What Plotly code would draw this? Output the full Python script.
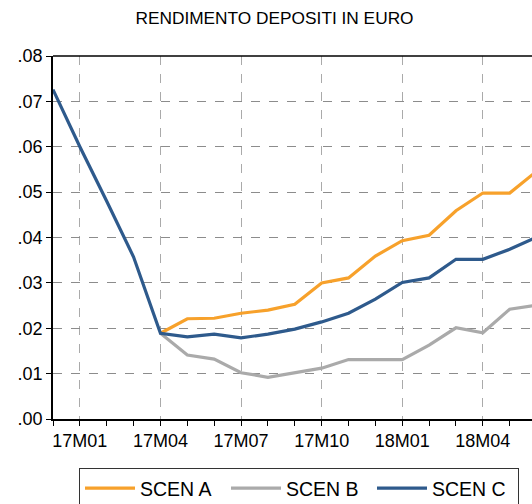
import plotly.graph_objects as go

months = ["16M12", "17M01", "17M02", "17M03", "17M04", "17M05", "17M06", "17M07",
          "17M08", "17M09", "17M10", "17M11", "17M12", "18M01", "18M02", "18M03",
          "18M04", "18M05", "18M06"]

scen_a = [None, None, None, None, 0.0189, 0.0221, 0.0222, 0.0233, 0.0240, 0.0253,
          0.0300, 0.0311, 0.0359, 0.0393, 0.0405, 0.0459, 0.0498, 0.0498, 0.0546]
scen_b = [None, None, None, None, 0.0189, 0.0141, 0.0132, 0.0102, 0.0092, 0.0102,
          0.0112, 0.0131, 0.0131, 0.0131, 0.0163, 0.0201, 0.0190, 0.0242, 0.0251]
scen_c = [0.0726, 0.0600, 0.0480, 0.0357, 0.0189, 0.0181, 0.0187, 0.0179, 0.0187, 0.0198,
          0.0214, 0.0233, 0.0264, 0.0301, 0.0311, 0.0352, 0.0352, 0.0374, 0.0401]

y_ticks = [0.00, 0.01, 0.02, 0.03, 0.04, 0.05, 0.06, 0.07, 0.08]
y_ticktext = [".00", ".01", ".02", ".03", ".04", ".05", ".06", ".07", ".08"]
x_major = ["17M01", "17M04", "17M07", "17M10", "18M01", "18M04"]

idx = list(range(len(months)))
x_major_pos = [months.index(m) for m in x_major]

FONT = "Liberation Sans, Arial, sans-serif"

W, H = 532, 504
L, T, R, B = 53, 56, 0, H - 419
PW, PH = W - L - R, H - T - B

fig = go.Figure()
fig.add_trace(go.Scatter(x=idx, y=scen_a, mode="lines", name="SCEN A",
                         line=dict(color="#F7A12B", width=3.2)))
fig.add_trace(go.Scatter(x=idx, y=scen_b, mode="lines", name="SCEN B",
                         line=dict(color="#AAAAAA", width=3.2)))
fig.add_trace(go.Scatter(x=idx, y=scen_c, mode="lines", name="SCEN C",
                         line=dict(color="#2E5A8C", width=3.2)))

fig.update_layout(
    width=W, height=H,
    margin=dict(l=L, r=R, t=T, b=B, autoexpand=False),
    paper_bgcolor="white", plot_bgcolor="white",
    font=dict(family=FONT, color="black", size=18),
    title=dict(text="RENDIMENTO DEPOSITI IN EURO", x=274.5 / W, xref="container",
               xanchor="center", y=1 - 18 / H, yref="container", yanchor="middle",
               font=dict(size=17.3, family=FONT, color="black")),
    showlegend=True,
    legend=dict(orientation="h", x=(79 - L) / PW, xanchor="left",
                y=-(468 - 419) / PH, yanchor="top",
                bordercolor="#333333", borderwidth=1,
                font=dict(size=19.5, family=FONT),
                entrywidth=81, entrywidthmode="pixels", itemwidth=50,
                traceorder="normal"),
    xaxis=dict(range=[0, 17.83], tickmode="array", tickvals=x_major_pos, ticktext=x_major,
               showgrid=True, gridcolor="#AAAAAA", griddash="dash", gridwidth=1,
               showline=True, linecolor="black", linewidth=1.5,
               ticks="outside", ticklen=5, tickcolor="black",
               minor=dict(tickmode="linear", tick0=0, dtick=1, ticks="outside",
                          ticklen=5, tickcolor="black", showgrid=False),
               tickfont=dict(size=18), zeroline=False, fixedrange=True, automargin=False),
    yaxis=dict(range=[0, 0.08], tickmode="array", tickvals=y_ticks, ticktext=y_ticktext,
               showgrid=True, gridcolor="#8C8C8C", griddash="dash", gridwidth=1,
               showline=True, linecolor="black", linewidth=1.5,
               ticks="outside", ticklen=5, tickcolor="black",
               tickfont=dict(size=18), zeroline=False, fixedrange=True, automargin=False),
    shapes=[dict(type="line", xref="paper", yref="paper", x0=0, x1=1, y0=1, y1=1,
                 line=dict(color="black", width=1.5))],
)

fig.write_html(
    "out.html",
    config={"displayModeBar": False},
    post_script="document.body.style.margin='0';document.body.style.overflow='hidden';",
)
